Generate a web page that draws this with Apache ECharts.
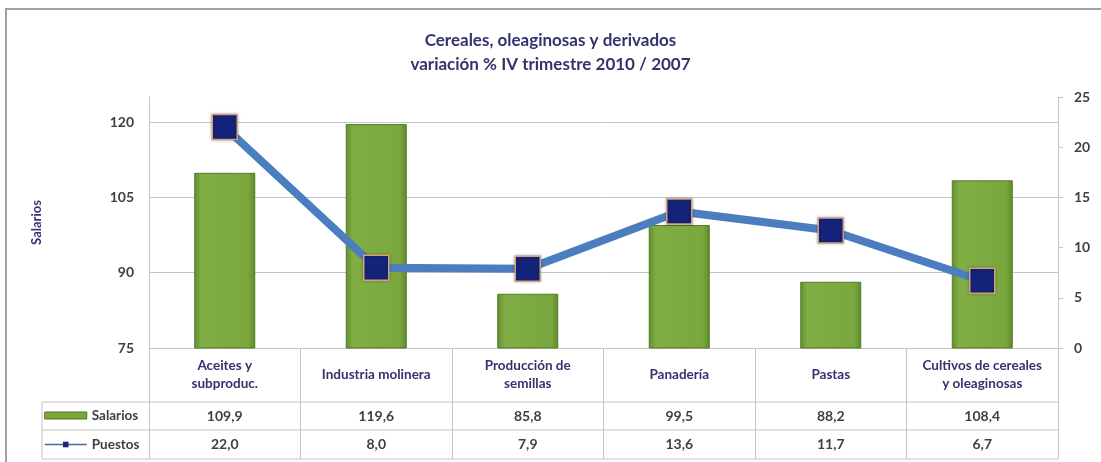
<!DOCTYPE html>
<html>
<head>
<meta charset="utf-8">
<script src="https://cdn.jsdelivr.net/npm/echarts@6/dist/echarts.min.js"></script>
<style>
html, body { margin: 0; padding: 0; background: #fff; }
#chart { width: 1101px; height: 462px; }
</style>
</head>
<body>
<div id="chart"></div>
<script>
var categorias = ['Aceites y\nsubproduc.', 'Industria molinera', 'Producción de\nsemillas', 'Panadería', 'Pastas', 'Cultivos de cereales\ny oleaginosas'];
var salarios = [109.9, 119.6, 85.8, 99.5, 88.2, 108.4];
var puestos = [22.0, 8.0, 7.9, 13.6, 11.7, 6.7];
var ticksSalarios = [75, 90, 105, 120];
var ticksPuestos = [0, 5, 10, 15, 20, 25];

var fuente = 'Lato, "Open Sans", sans-serif';
var azulTexto = '#33336e';
var gris = '#c4c4c4';

// area de trazado
var L = 149, R = 1058, T = 97, B = 348;
var filas = [402, 430, 459];

function coma(v) { return v.toFixed(1).replace('.', ','); }

var myChart = echarts.init(document.getElementById('chart'));

var lineas = [];
// borde exterior
lineas.push({ type: 'polyline', shape: { points: [[6, 462], [6, 9], [1101, 9]] }, style: { stroke: '#a0a0a0', lineWidth: 2, fill: null }, silent: true });
filas.forEach(function (y) {
	lineas.push({ type: 'line', shape: { x1: 42, y1: y, x2: R, y2: y }, style: { stroke: gris, lineWidth: 1 }, silent: true });
});
lineas.push({ type: 'line', shape: { x1: 42, y1: filas[0], x2: 42, y2: filas[2] }, style: { stroke: gris, lineWidth: 1 }, silent: true });

myChart.setOption({
	backgroundColor: '#fff',
	title: {
		text: 'Cereales, oleaginosas y derivados\nvariación % IV trimestre 2010 / 2007',
		left: 'center',
		top: 24,
		textStyle: { color: azulTexto, fontFamily: fuente, fontWeight: 'bold', fontSize: 17, lineHeight: 24 }
	},
	legend: {
		orient: 'vertical',
		left: 44,
		top: 408,
		padding: 0,
		itemWidth: 42,
		itemHeight: 7,
		itemGap: 14,
		itemStyle: { borderWidth: 0 },
		textStyle: { color: '#404040', fontFamily: fuente, fontWeight: 'bold', fontSize: 13.5, lineHeight: 15 },
		data: [
			{ name: 'Salarios', icon: 'rect', itemStyle: { color: '#7aa63c', borderColor: '#4d7320', borderWidth: 1 } },
			{ name: 'Puestos', lineStyle: { width: 1.5, color: '#4a6a9a' }, itemStyle: { color: '#16277a', borderWidth: 0 } }
		]
	},
	graphic: lineas,
	grid: { left: L, right: 1101 - R, top: T, bottom: 462 - B },
	xAxis: [
		{
			type: 'category',
			data: categorias,
			axisLine: { lineStyle: { color: gris } },
			axisTick: { show: true, interval: 0, length: filas[2] - B, lineStyle: { color: gris } },
			axisLabel: { interval: 0, margin: 27, verticalAlign: 'middle', lineHeight: 18, color: azulTexto, fontFamily: fuente, fontWeight: 'bold', fontSize: 13.5 }
		},
		{
			type: 'category',
			position: 'bottom',
			data: categorias,
			axisLine: { show: false },
			axisTick: { show: false },
			axisLabel: {
				interval: 0, margin: 68, verticalAlign: 'middle', color: '#404040', fontFamily: fuente, fontWeight: 'bold', fontSize: 14,
				formatter: function (v, i) { return coma(salarios[i]); }
			}
		},
		{
			type: 'category',
			position: 'bottom',
			data: categorias,
			axisLine: { show: false },
			axisTick: { show: false },
			axisLabel: {
				interval: 0, margin: 96, verticalAlign: 'middle', color: '#404040', fontFamily: fuente, fontWeight: 'bold', fontSize: 14,
				formatter: function (v, i) { return coma(puestos[i]); }
			}
		}
	],
	yAxis: [
		{
			type: 'value',
			name: 'Salarios',
			nameLocation: 'middle',
			nameRotate: 90,
			nameGap: 106,
			nameTextStyle: { color: azulTexto, fontFamily: fuente, fontWeight: 'bold', fontSize: 13 },
			min: ticksSalarios[0],
			max: 125,
			interval: ticksSalarios[1] - ticksSalarios[0],
			axisLine: { show: true, lineStyle: { color: gris } },
			axisTick: { show: false },
			axisLabel: { margin: 15, showMaxLabel: false, color: '#404040', fontFamily: fuente, fontWeight: 'bold', fontSize: 14 },
			splitLine: { show: true, showMaxLine: false, lineStyle: { color: gris } }
		},
		{
			type: 'value',
			position: 'right',
			min: ticksPuestos[0],
			max: ticksPuestos[ticksPuestos.length - 1],
			interval: ticksPuestos[1] - ticksPuestos[0],
			axisLine: { show: true, lineStyle: { color: gris } },
			axisTick: { show: true, length: 5, lineStyle: { color: gris } },
			axisLabel: { margin: 16, color: '#404040', fontFamily: fuente, fontWeight: 'bold', fontSize: 14 },
			splitLine: { show: false }
		}
	],
	series: [
		{
			name: 'Salarios',
			type: 'bar',
			data: salarios,
			barWidth: 61,
			itemStyle: {
				color: new echarts.graphic.LinearGradient(0, 0, 1, 0, [
					{ offset: 0, color: '#628f2d' },
					{ offset: 0.12, color: '#80ad44' },
					{ offset: 0.88, color: '#7ba83e' },
					{ offset: 1, color: '#5e8a2a' }
				]),
				borderColor: '#52792a',
				borderWidth: 1
			}
		},
		{
			name: 'Puestos',
			type: 'line',
			yAxisIndex: 1,
			data: puestos,
			symbol: 'rect',
			symbolSize: 25,
			z: 5,
			lineStyle: { color: '#4a7ebf', width: 8 },
			itemStyle: { color: '#14237a', borderColor: '#d4a080', borderWidth: 1.5, shadowBlur: 3, shadowColor: 'rgba(0,0,0,0.3)' }
		}
	]
});
</script>
</body>
</html>
